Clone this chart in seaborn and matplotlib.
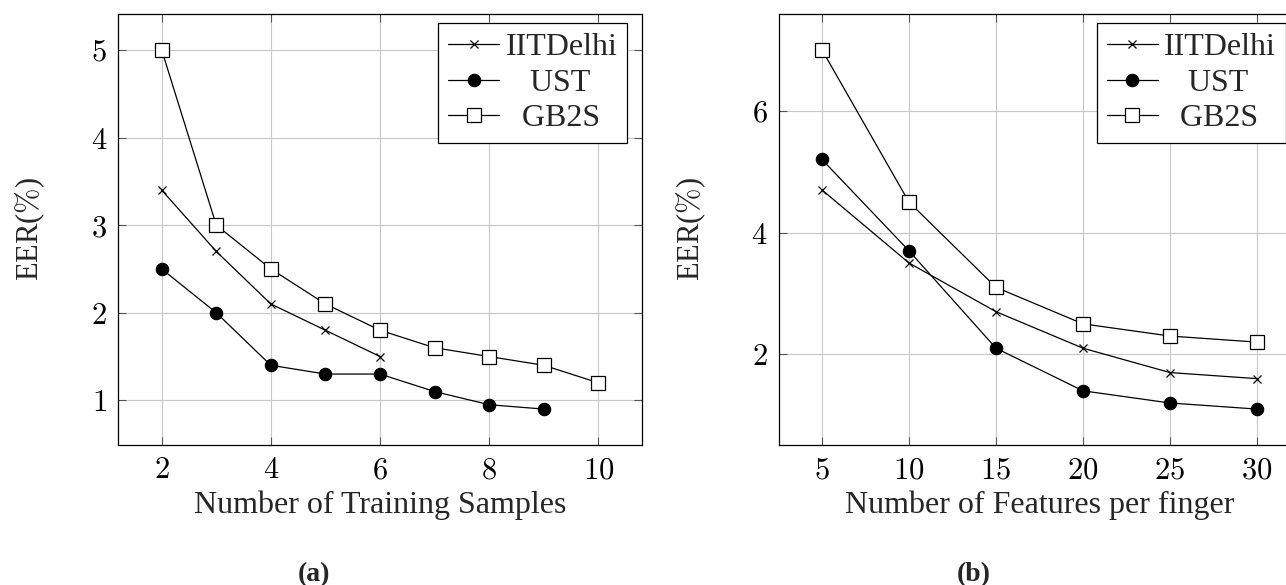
import matplotlib
matplotlib.use("Agg")
import matplotlib.pyplot as plt
import seaborn as sns
import pandas as pd
from matplotlib.ticker import FuncFormatter

# ---- data ----
train_samples = [2, 3, 4, 5, 6, 7, 8, 9, 10]
iit_a = [3.4, 2.7, 2.1, 1.8, 1.5]
ust_a = [2.5, 2.0, 1.4, 1.3, 1.3, 1.1, 0.95, 0.9]
gb2s_a = [5.0, 3.0, 2.5, 2.1, 1.8, 1.6, 1.5, 1.4, 1.2]

features = [5, 10, 15, 20, 25, 30]
iit_b = [4.7, 3.5, 2.7, 2.1, 1.7, 1.6]
ust_b = [5.2, 3.7, 2.1, 1.4, 1.2, 1.1]
gb2s_b = [7.0, 4.5, 3.1, 2.5, 2.3, 2.2]

labels = ["IITDelhi", "UST", "GB2S"]

sns.set_style("whitegrid")
plt.rcParams["font.family"] = ["Liberation Serif", "DejaVu Serif"]
plt.rcParams["mathtext.fontset"] = "cm"


def make_df(x, y, name):
    return pd.DataFrame({"x": x[:len(y)], "y": y, "series": name})


def draw(ax, x, series, xlim, ylim, xticks, yticks, xlabel, ax_w):
    styles = [
        dict(marker="x", markersize=6, mfc="black", mec="black", mew=0.9),
        dict(marker="o", markersize=9, mfc="black", mec="black"),
        dict(marker="s", markersize=9.5, mfc="white", mec="black", mew=0.9),
    ]
    for ys, name, st in zip(series, labels, styles):
        d = make_df(x, ys, name)
        sns.lineplot(data=d, x="x", y="y", ax=ax, color="black", lw=0.9,
                     label=name, **st)
    ax.set_xlim(*xlim)
    ax.set_ylim(*ylim)
    ax.set_xticks(xticks)
    ax.set_yticks(yticks)
    fmt = FuncFormatter(lambda v, p: r"$%g$" % v)
    ax.xaxis.set_major_formatter(fmt)
    ax.yaxis.set_major_formatter(fmt)
    ax.tick_params(labelsize=22, direction="in", length=6, width=0.8,
                   top=True, right=True, bottom=True, left=True,
                   colors="#555555", labelcolor="black", pad=8)
    ax.grid(True, color="#c8c8c8", lw=0.8)
    for s in ax.spines.values():
        s.set_color("black")
        s.set_linewidth(0.9)
    ax.set_xlabel(xlabel, fontsize=23, labelpad=4)
    ax.set_ylabel(r"EER($\%$)", fontsize=22, labelpad=31)
    leg = ax.legend(loc="upper right", fontsize=23, frameon=True,
                    fancybox=False, framealpha=1, edgecolor="black",
                    bbox_to_anchor=(1 - 15 / ax_w, 1 - 9 / 431),
                    borderaxespad=0, handlelength=1.6, handletextpad=0.2,
                    borderpad=0.3, labelspacing=0.2)
    leg.get_frame().set_linewidth(0.9)
    for t, lab in zip(leg.get_texts(), ["IITDelhi", "   UST", "  GB2S"]):
        t.set_text(lab)


fig = plt.figure(figsize=(12.86, 5.85), dpi=100)
ax1 = fig.add_axes([118 / 1286, 140 / 585, 524 / 1286, 431 / 585])
ax2 = fig.add_axes([778.5 / 1286, 140 / 585, 522 / 1286, 431 / 585])

draw(ax1, train_samples, [iit_a, ust_a, gb2s_a], (1.2, 10.8), (0.49, 5.41),
     [2, 4, 6, 8, 10], [1, 2, 3, 4, 5], "Number of Training Samples", 524)
draw(ax2, features, [iit_b, ust_b, gb2s_b], (2.5, 32.5), (0.51, 7.59),
     [5, 10, 15, 20, 25, 30], [2, 4, 6], "Number of Features per finger", 522)

fig.text(314 / 1286, 1 - 575 / 585, "(a)", fontsize=20, fontweight="bold",
         ha="center", va="center")
fig.text(974 / 1286, 1 - 575 / 585, "(b)", fontsize=20, fontweight="bold",
         ha="center", va="center")

fig.savefig("out.png", dpi=100)
